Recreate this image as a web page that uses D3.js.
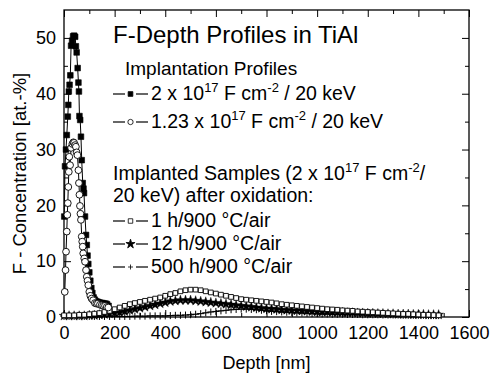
<!DOCTYPE html>
<html>
<head>
<meta charset="utf-8">
<script src="https://cdn.jsdelivr.net/npm/d3@7"></script>
<style>
	body { margin: 0; background: #fff; }
	text { font-family: "Liberation Sans", Arial, sans-serif; fill: #000; }
</style>
</head>
<body>
<svg id="chart" width="491" height="379"></svg>
<script>
// implantation profile, 2e17 F/cm2 (filled squares)
const implDepthA = [1,4,8,11,15,17,19,22,25,28,32,36,40,44,47,50,54,57,59,61,64,67,70,74,77,79,83,87,90,93,96,100,104,108,112,117,122,128,134,140,146,152,158,164,170,176];
const implValueA = [18,27,30,32.6,35.9,38,40.4,41.6,43.3,48.6,49.5,50.3,50.4,50.2,48.5,47.4,44.6,42,40.4,36,35.3,32.3,28.1,24,23,22.2,18,14.7,12.9,11,9.5,8,6.5,5.2,4.3,3.5,3.1,2.8,2.7,2.6,2.5,2.5,2.4,2.4,2.3,2];

// implantation profile, 1.23e17 F/cm2 (open circles)
const implDepthB = [3,6,8,11,13,15,17,19,21,24,28,33,37,40,44,47,50,53,57,59,61,63,65,67,70,72,74,76,80,83,87,90,93,96,100,104,109,115,122,128,134,142,149,155,162,169,175];
const implValueB = [4.5,8.4,11.7,15.3,18.3,20.4,23.3,26,28.7,27.2,30.3,31,31.3,31.2,30.8,30.5,29.5,29,26.3,24,21.9,19.9,18.5,17.4,14.4,13.5,12.6,11.4,10.5,9.9,8.4,7.2,6.5,5.7,4.5,3.8,3.3,3,2.5,2.4,2.4,2.2,2.1,2,2,1.8,1.7];

// oxidized samples, common depth grid
const oxDepth = [0,20,40,60,80,100,120,140,160,180,200,220,240,260,280,300,320,340,360,380,400,420,440,460,480,500,520,540,560,580,600,620,640,660,680,700,720,740,760,780,800,820,840,860,880,900,920,940,960,980,1000,1020,1040,1060,1080,1100,1120,1140,1160,1180,1200,1220,1240,1260,1280,1300,1320,1340,1360,1380,1400,1420,1440,1460,1480];
const ox1h = [0.3,0.3,0.3,0.4,0.4,0.5,0.6,0.7,0.9,1.1,1.4,1.7,2.0,2.3,2.5,2.7,2.9,3.1,3.3,3.5,3.8,4.1,4.3,4.6,4.8,4.9,4.9,4.8,4.6,4.4,4.2,4.0,3.8,3.6,3.4,3.2,3.1,3.0,2.9,2.8,2.7,2.6,2.45,2.3,2.2,2.1,2.0,1.9,1.8,1.7,1.6,1.5,1.4,1.35,1.3,1.2,1.15,1.1,1.0,0.95,0.9,0.85,0.8,0.75,0.7,0.65,0.6,0.55,0.55,0.5,0.45,0.4,0.4,0.35,0.3];
const ox12h = [0.2,0.2,0.2,0.2,0.2,0.3,0.3,0.4,0.5,0.6,0.7,0.8,1.0,1.2,1.4,1.6,1.8,2.0,2.2,2.4,2.6,2.8,2.9,3.0,3.0,3.0,2.9,2.8,2.7,2.6,2.5,2.4,2.3,2.2,2.1,2.0,1.9,1.8,1.7,1.6,1.5,1.45,1.4,1.3,1.25,1.2,1.15,1.1,1.05,1.0,0.95,0.9,0.9,0.85,0.8,0.8,0.75,0.75,0.7,0.7,0.65,0.65,0.6,0.6,0.55,0.55,0.5,0.5,0.5,0.45,0.45,0.45,0.4,0.4,0.4];
const ox500h = [0.1,0.1,0.1,0.1,0.1,0.1,0.1,0.1,0.1,0.1,0.1,0.1,0.1,0.1,0.15,0.15,0.15,0.2,0.2,0.2,0.2,0.25,0.3,0.3,0.35,0.4,0.5,0.6,0.75,0.9,1.0,1.1,1.2,1.3,1.35,1.4,1.4,1.35,1.3,1.2,1.1,1.0,0.95,0.9,0.85,0.8,0.75,0.7,0.65,0.6,0.6,0.55,0.55,0.5,0.5,0.5,0.45,0.45,0.45,0.4,0.4,0.4,0.4,0.35,0.35,0.35,0.35,0.3,0.3,0.3,0.3,0.3,0.25,0.25,0.25];

const xMajor = [0,200,400,600,800,1000,1200,1400,1600];
const xMinor = [100,300,500,700,900,1100,1300,1500];
const yMajor = [0,10,20,30,40,50];
const yMinor = [5,15,25,35,45];

const svg = d3.select("#chart");
const x = d3.scaleLinear().domain([0, 1600]).range([64, 469]);
const y = d3.scaleLinear().domain([0, 55]).range([317, 10]);

function styleAxis(g) {
	g.select(".domain").remove();
	g.selectAll("line").attr("stroke", "#000").attr("stroke-width", 1);
	g.selectAll("text").attr("font-family", null).style("font-size", "18px");
	g.attr("font-family", null).attr("font-size", null);
}

svg.append("g").attr("transform", "translate(0,317)")
	.call(d3.axisBottom(x).tickValues(xMajor).tickSize(-7).tickPadding(9).tickFormat(d3.format("d")))
	.call(styleAxis);
svg.append("g").attr("transform", "translate(0,317)")
	.call(d3.axisBottom(x).tickValues(xMinor).tickSize(-4).tickFormat(""))
	.call(styleAxis);
svg.append("g").attr("transform", "translate(0,10)")
	.call(d3.axisTop(x).tickValues(xMajor).tickSize(-7).tickFormat(""))
	.call(styleAxis);
svg.append("g").attr("transform", "translate(0,10)")
	.call(d3.axisTop(x).tickValues(xMinor).tickSize(-4).tickFormat(""))
	.call(styleAxis);
svg.append("g").attr("transform", "translate(64,0)")
	.call(d3.axisLeft(y).tickValues(yMajor).tickSize(-7).tickPadding(8))
	.call(styleAxis);
svg.append("g").attr("transform", "translate(64,0)")
	.call(d3.axisLeft(y).tickValues(yMinor).tickSize(-4).tickFormat(""))
	.call(styleAxis);
svg.append("g").attr("transform", "translate(469,0)")
	.call(d3.axisRight(y).tickValues(yMajor).tickSize(-7).tickFormat(""))
	.call(styleAxis);
svg.append("g").attr("transform", "translate(469,0)")
	.call(d3.axisRight(y).tickValues(yMinor).tickSize(-4).tickFormat(""))
	.call(styleAxis);

// frame
svg.append("rect")
	.attr("x", x(0)).attr("y", y(55))
	.attr("width", x(1600) - x(0)).attr("height", y(0) - y(55))
	.attr("fill", "none").attr("stroke", "#000").attr("stroke-width", 1.3);

// axis titles
svg.append("text")
	.attr("x", (x(0) + x(1600)) / 2).attr("y", 369)
	.attr("text-anchor", "middle").style("font-size", "18px")
	.text("Depth [nm]");
svg.append("text")
	.attr("transform", "translate(26," + ((y(0) + y(55)) / 2 + 10) + ") rotate(-90)")
	.attr("text-anchor", "middle").style("font-size", "18.5px")
	.text("F - Concentration [at.-%]");

// marker shapes
const plusPath = "M-3.5,0H3.5M0,-3.5V3.5";
const markers = {
	fsq: { d: d3.symbol(d3.symbolSquare, 32)(), fill: "#000", stroke: "#000", sw: 0.6 },
	oci: { d: d3.symbol(d3.symbolCircle, 36)(), fill: "#fff", stroke: "#000", sw: 0.9 },
	osq: { d: d3.symbol(d3.symbolSquare, 22)(), fill: "#fff", stroke: "#000", sw: 0.9 },
	star: { d: d3.symbol(d3.symbolStar, 30)(), fill: "#000", stroke: "#000", sw: 0.4 },
	plus: { d: plusPath, fill: "none", stroke: "#000", sw: 1 }
};

const line = d3.line().x(d => x(d[0])).y(d => y(d[1]));

function drawSeries(depths, values, m, lw) {
	const pts = depths.map((d, i) => [d, values[i]]);
	const g = svg.append("g");
	g.append("path").attr("d", line(pts))
		.attr("fill", "none").attr("stroke", "#000").attr("stroke-width", lw);
	g.selectAll("path.m").data(pts).enter().append("path")
		.attr("class", "m")
		.attr("transform", d => "translate(" + x(d[0]) + "," + y(d[1]) + ")")
		.attr("d", markers[m].d)
		.attr("fill", markers[m].fill)
		.attr("stroke", markers[m].stroke)
		.attr("stroke-width", markers[m].sw);
}

drawSeries(oxDepth, ox500h, "plus", 0.7);
drawSeries(oxDepth, ox12h, "star", 0.7);
drawSeries(oxDepth, ox1h, "osq", 0.7);
drawSeries(implDepthA, implValueA, "fsq", 1);
drawSeries(implDepthB, implValueB, "oci", 1);

// legend text
function richText(px, py, parts, size) {
	const t = svg.append("text").attr("x", px).attr("y", py).style("font-size", size + "px");
	let shift = 0;
	parts.forEach(p => {
		const s = t.append("tspan").text(p[0]);
		const target = p[1] ? -8 : 0;
		if (target !== shift) { s.attr("dy", target - shift); shift = target; }
		if (p[1]) s.style("font-size", "13px");
	});
	return t;
}

svg.append("text").attr("x", 113).attr("y", 43).style("font-size", "24px")
	.text("F-Depth Profiles in TiAl");
svg.append("text").attr("x", 125).attr("y", 75).style("font-size", "19px")
	.text("Implantation Profiles");

const legendA = [
	{ m: "fsq", y: 100, parts: [["2 x 10"], ["17", 1], [" F cm"], ["-2", 1], [" / 20 keV"]] },
	{ m: "oci", y: 128, parts: [["1.23 x 10"], ["17", 1], [" F cm"], ["-2", 1], [" / 20 keV"]] },
	{ m: "osq", y: 227, parts: [["1 h/900 °C/air"]] },
	{ m: "star", y: 250, parts: [["12 h/900 °C/air"]] },
	{ m: "plus", y: 273, parts: [["500 h/900 °C/air"]] }
];

richText(113, 180, [["Implanted Samples (2 x 10"], ["17", 1], [" F cm"], ["-2", 1], ["/"]], 19.5);
richText(113, 202, [["20 keV) after oxidation:"]], 19.5);

const legendMarks = {
	fsq: d3.symbol(d3.symbolSquare, 22)(),
	oci: d3.symbol(d3.symbolCircle, 22)(),
	osq: d3.symbol(d3.symbolSquare, 20)(),
	star: d3.symbol(d3.symbolStar, 26)(),
	plus: "M-2.5,0H2.5M0,-2.5V2.5"
};

legendA.forEach(e => {
	const cy = e.y - 6;
	svg.append("line").attr("x1", 113).attr("x2", 125).attr("y1", cy).attr("y2", cy)
		.attr("stroke", "#000").attr("stroke-width", 1.2);
	svg.append("line").attr("x1", 136).attr("x2", 148).attr("y1", cy).attr("y2", cy)
		.attr("stroke", "#000").attr("stroke-width", 1.2);
	svg.append("path")
		.attr("transform", "translate(130.5," + cy + ")")
		.attr("d", legendMarks[e.m])
		.attr("fill", markers[e.m].fill)
		.attr("stroke", "#000").attr("stroke-width", 0.8);
	richText(151, e.y, e.parts, 19.5);
});
</script>
</body>
</html>
